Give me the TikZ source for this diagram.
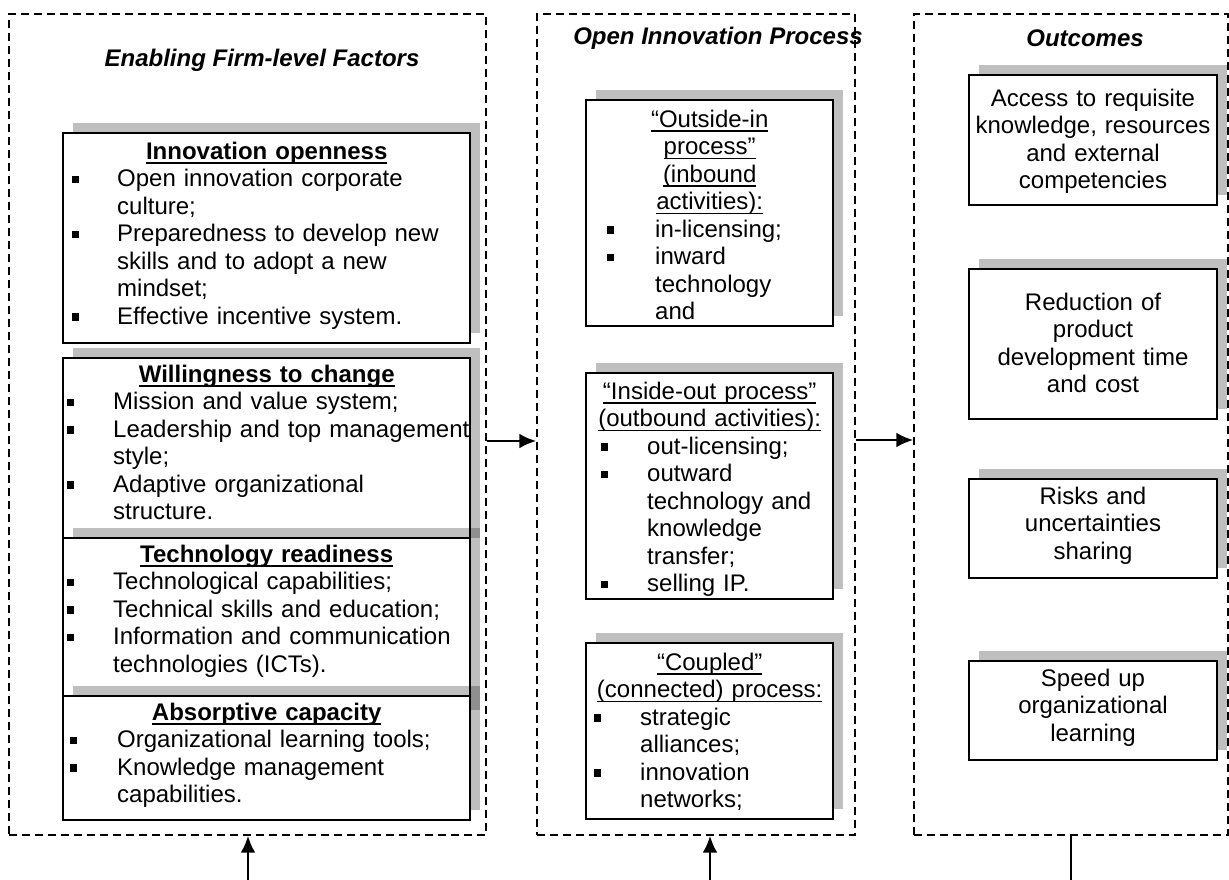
\documentclass[tikz,border=0pt]{standalone}
\usepackage{fontspec}
\setmainfont{Liberation Sans}
\usetikzlibrary{arrows.meta,shadows}
\newcommand\fsz{\fontsize{24pt}{27.5pt}\selectfont}
\newcommand\sqb{\rule[3.5pt]{7.5pt}{7.5pt}}
\newcommand\nl{\hfil\break}
\newcommand\myul[1]{\leavevmode\strut\setbox0\hbox{#1}\rlap{\rule[-4.5pt]{\wd0}{1.8pt}}\box0}
\newcommand\bit[3]{\par\noindent\hangindent=#2\hangafter=1\relax\makebox[#2][l]{\hspace*{#1}\sqb}\strut#3\par}
\hbadness=10000 \hfuzz=50pt
\begin{document}
\begin{tikzpicture}[x=1pt,y=-1pt,font=\fsz,
  dbox/.style={draw, dash pattern=on 8pt off 5pt, line width=1.4pt, inner sep=0},
  sbox/.style={draw, line width=1.8pt, fill=white, inner sep=0,
    drop shadow={shadow xshift=10pt, shadow yshift=10pt, fill=black, opacity=0.25}},
  ttl/.style={font=\fsz\bfseries\itshape, inner sep=0},
  blist/.style={inner sep=0, anchor=north west, align=left},
  ctext/.style={inner sep=0, anchor=north, align=center, text width=300pt},
  arr/.style={line width=2.8pt, -{Latex[length=17pt,width=15pt]}},
  plain/.style={line width=2.8pt}]
\useasboundingbox[fill=white] (0,0) rectangle (1229,880);

% outer dashed frames
\node[dbox, minimum width=477pt, minimum height=821pt] (L) at (247.5,424.5) {};
\node[dbox, minimum width=318pt, minimum height=821pt] (M) at (696,424.5) {};
\node[dbox, minimum width=314pt, minimum height=821pt] (R) at (1071,424.5) {};

\node[ttl] (tL) at (262,60) {Enabling Firm-level Factors};
\node[ttl] (tM) at (718,38) {Open Innovation Process};
\node[ttl] (tR) at (1085,38) {Outcomes};

% left column
\node[sbox, minimum width=407pt, minimum height=210pt] (f1) at (266.5,238) {};
\node[blist, text width=407pt] (f1t) at (63,140) {{\centering\myul{\textbf{Innovation openness}}\par}
\bit{8.5pt}{54pt}{Open innovation corporate\nl culture;}
\bit{8.5pt}{54pt}{Preparedness to develop new\nl skills and to adopt a new\nl mindset;}
\bit{8.5pt}{54pt}{Effective incentive system.}};

\node[sbox, minimum width=407pt, minimum height=190pt] (f2) at (266.5,453) {};
\node[blist, text width=407pt] (f2t) at (63,363) {{\centering\myul{\textbf{Willingness to change}}\par}
\bit{3.5pt}{50pt}{Mission and value system;}
\bit{3.5pt}{50pt}{Leadership and top management\nl style;}
\bit{3.5pt}{50pt}{Adaptive organizational\nl structure.}};

\node[sbox, minimum width=407pt, minimum height=182pt] (f3) at (266.5,629) {};
\node[blist, text width=407pt] (f3t) at (63,543) {{\centering\myul{\textbf{Technology readiness}}\par}
\bit{3.5pt}{50pt}{Technological capabilities;}
\bit{3.5pt}{50pt}{Technical skills and education;}
\bit{3.5pt}{50pt}{Information and communication\nl technologies (ICTs).}};

\node[sbox, minimum width=407pt, minimum height=124pt] (f4) at (266.5,758) {};
\node[blist, text width=407pt] (f4t) at (63,701) {{\centering\myul{\textbf{Absorptive capacity}}\par}
\bit{6.5pt}{54pt}{Organizational learning tools;}
\bit{6.5pt}{54pt}{Knowledge management\nl capabilities.}};

% middle column
\node[sbox, minimum width=247pt, minimum height=226pt] (p1) at (709.5,213) {};
\node[blist, text width=247pt] (p1t) at (586,108) {{\centering\myul{“Outside-in}\\\myul{process”}\\\myul{(inbound}\\\myul{activities):}\par}
\bit{20.5pt}{69pt}{in-licensing;}
\bit{20.5pt}{69pt}{inward\nl technology\nl and}};

\node[sbox, minimum width=247pt, minimum height=226pt] (p2) at (709.5,486) {};
\node[blist, text width=247pt] (p2t) at (586,380) {{\centering\myul{“Inside-out process”}\\\myul{(outbound activities):}\par}
\bit{14.5pt}{61pt}{out-licensing;}
\bit{14.5pt}{61pt}{outward\nl technology and\nl knowledge\nl transfer;}
\bit{14.5pt}{61pt}{selling IP.}};

\node[sbox, minimum width=247pt, minimum height=176pt] (p3) at (709.5,731) {};
\node[blist, text width=247pt] (p3t) at (586,651) {{\centering\myul{“Coupled”}\\\myul{(connected) process:}\par}
\bit{7.5pt}{54pt}{strategic\nl alliances;}
\bit{7.5pt}{54pt}{innovation\nl networks;}};

% right column
\node[sbox, minimum width=248pt, minimum height=130pt] (o1) at (1093,140) {};
\node[ctext] (o1t) at (1093,87) {\strut Access to requisite\\knowledge, resources\\and external\\competencies};
\node[sbox, minimum width=248pt, minimum height=150pt] (o2) at (1093,344) {};
\node[ctext] (o2t) at (1093,291) {\strut Reduction of\\product\\development time\\and cost};
\node[sbox, minimum width=248pt, minimum height=99pt] (o3) at (1093,528.5) {};
\node[ctext] (o3t) at (1093,485) {\strut Risks and\\uncertainties\\sharing};
\node[sbox, minimum width=248pt, minimum height=99pt] (o4) at (1093,710.5) {};
\node[ctext] (o4t) at (1093,667) {\strut Speed up\\organizational\\learning};

% connectors
\draw[arr] ([yshift=-16.5pt]L.east) -- ([yshift=-16.5pt]M.west);
\draw[arr] ([yshift=-15.5pt]M.east) -- ([yshift=-15.5pt]R.west);
\coordinate (b1) at (248,880);
\coordinate (b2) at (710,880);
\coordinate (b3) at (1071,880);
\draw[arr] (b1) -- (L.south -| b1);
\draw[arr] (b2) -- (M.south -| b2);
\draw[plain] (R.south) -- (b3);
\end{tikzpicture}
\end{document}
